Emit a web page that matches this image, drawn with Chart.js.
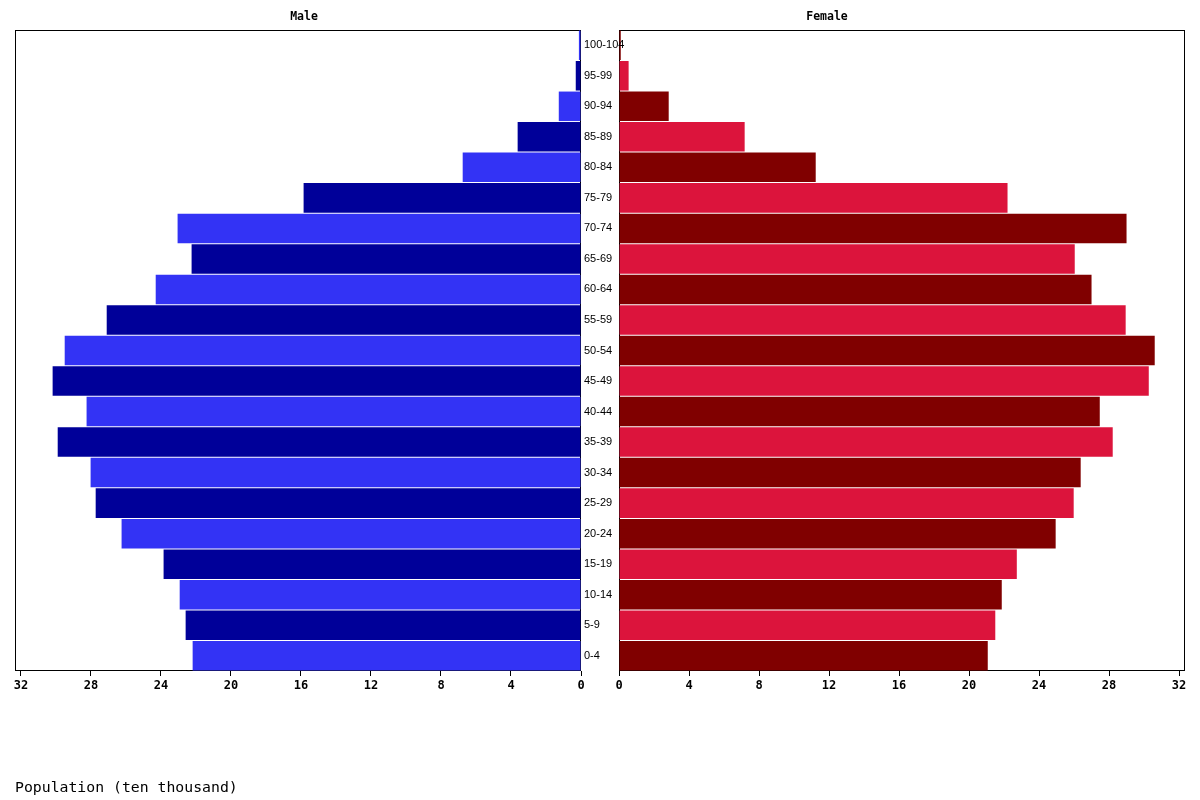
<!DOCTYPE html>
<html>
<head>
<meta charset="utf-8">
<script src="https://cdn.jsdelivr.net/npm/chart.js@4"></script>
<style>
body { margin:0; background:#fff; }
#wrap { position:relative; width:1200px; height:800px; }
canvas { position:absolute; top:0; }
#female { left:600px; }
#male { left:0; }
</style>
</head>
<body>
<div id="wrap">
<canvas id="female" width="600" height="800"></canvas>
<canvas id="male" width="640" height="800"></canvas>
</div>
<script>
const ages = ['0-4','5-9','10-14','15-19','20-24','25-29','30-34','35-39','40-44','45-49','50-54','55-59','60-64','65-69','70-74','75-79','80-84','85-89','90-94','95-99','100-104'];
const male = [22.19, 22.59, 22.93, 23.85, 26.25, 27.73, 28.02, 29.9, 28.25, 30.19, 29.5, 27.1, 24.3, 22.25, 23.05, 15.85, 6.76, 3.62, 1.27, 0.3, 0.12];
const female = [21.07, 21.5, 21.87, 22.73, 24.95, 25.98, 26.38, 28.21, 27.47, 30.27, 30.61, 28.95, 27.0, 26.04, 29.0, 22.2, 11.24, 7.18, 2.84, 0.55, 0.1];
const xMax = 32.34;

const maleColors = ages.map((a, i) => i % 2 ? '#000099' : '#3333f5');
const femaleColors = ages.map((a, i) => i % 2 ? '#dc143c' : '#800000');

const tickFont = {family:'DejaVu Sans Mono', size:12, weight:'bold'};

// frame (under the bars) + titles
function framePlugin(title, tx, footer){
	return {
		id:'frame',
		beforeDatasetsDraw(chart){
			const a = chart.chartArea, c = chart.ctx;
			c.save();
			c.strokeStyle = '#000';
			c.lineWidth = 1;
			c.strokeRect(Math.round(a.left)+0.5, Math.round(a.top)+0.5, Math.round(a.right-a.left)-1, Math.round(a.bottom-a.top)-1);
			c.fillStyle = '#000';
			c.font = 'bold 11.5px "DejaVu Sans Mono"';
			c.textAlign = 'center';
			c.textBaseline = 'middle';
			c.fillText(title, tx, 17);
			if (footer){
				c.font = '14.8px "DejaVu Sans Mono"';
				c.textAlign = 'left';
				c.fillText(footer, 15, 788);
			}
			c.restore();
		}
	};
}

function xScale(rev){
	return {
		reverse: rev, min: 0, max: xMax,
		ticks: {stepSize:4, includeBounds:false, color:'#000', font:tickFont, padding:3, maxRotation:0},
		grid: {drawOnChartArea:false, drawTicks:true, tickLength:5, color:'#000'},
		border: {display:false},
		afterFit(s){ s.height = 129; }
	};
}

const maleChart = new Chart(document.getElementById('male'), {
	type:'bar',
	data:{
		labels: ages,
		datasets:[{data:male, backgroundColor:maleColors, borderWidth:0, barPercentage:0.967, categoryPercentage:1}]
	},
	options:{
		indexAxis:'y', responsive:false, animation:false,
		layout:{padding:{left:15, right:4, top:30, bottom:0}},
		plugins:{legend:{display:false}, tooltip:{enabled:false}},
		scales:{
			x: xScale(true),
			y:{
				position:'right', reverse:true,
				grid:{display:false, drawTicks:false}, border:{display:false},
				ticks:{color:'#000', font:{family:'Liberation Sans', size:11}, padding:3, autoSkip:false},
				afterFit(s){ s.width = 55; }
			}
		}
	},
	plugins:[framePlugin('Male', 304, 'Population (ten thousand)')]
});

const femaleChart = new Chart(document.getElementById('female'), {
	type:'bar',
	data:{
		labels: ages,
		datasets:[{data:female, backgroundColor:femaleColors, borderWidth:0, barPercentage:0.967, categoryPercentage:1}]
	},
	options:{
		indexAxis:'y', responsive:false, animation:false,
		layout:{padding:{left:19, right:15, top:30, bottom:0}},
		plugins:{legend:{display:false}, tooltip:{enabled:false}},
		scales:{
			x: xScale(false),
			y:{display:false, reverse:true}
		}
	},
	plugins:[framePlugin('Female', 227, null)]
});
</script>
</body>
</html>
